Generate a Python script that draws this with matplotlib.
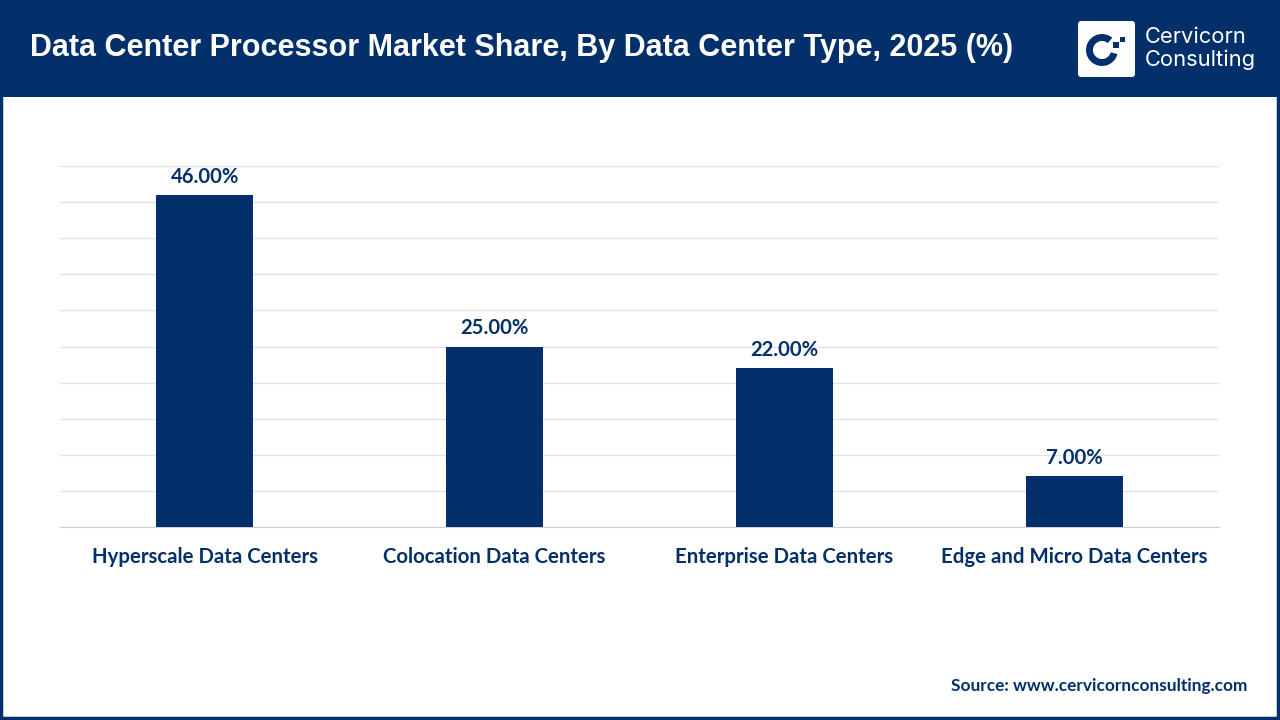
import matplotlib
matplotlib.use("Agg")
import matplotlib.pyplot as plt
from matplotlib.patches import Rectangle, FancyBboxPatch, Wedge

categories = ["Hyperscale Data Centers", "Colocation Data Centers",
              "Enterprise Data Centers", "Edge and Micro Data Centers"]
values = [46.00, 25.00, 22.00, 7.00]
title = "Data Center Processor Market Share, By Data Center Type, 2025 (%)"
source = "Source: www.cervicornconsulting.com"

NAVY = "#03306a"
W, H = 1280, 720
fig = plt.figure(figsize=(12.8, 7.2), dpi=100)
fig.patch.set_facecolor("white")

def fx(px): return px / W
def fy(py): return 1 - py / H

# header band
fig.add_artist(Rectangle((0, fy(97)), 1, 97 / H, transform=fig.transFigure,
                         facecolor=NAVY, edgecolor="none", zorder=0))
# border
fig.add_artist(Rectangle((fx(1), fy(718)), fx(1277), 717 / H, transform=fig.transFigure,
                         facecolor="none", edgecolor=NAVY, linewidth=2.5, zorder=5))

fig.text(fx(30), fy(48), title, color="white", fontsize=22, fontweight="bold",
         family="Liberation Sans", va="center", ha="left")

# logo
lax = fig.add_axes([fx(1078), fy(77), fx(57), 56 / H], zorder=10)
lax.set_xlim(0, 57); lax.set_ylim(0, 56); lax.axis("off")
lax.add_patch(FancyBboxPatch((0, 0), 57, 56, boxstyle="round,pad=0,rounding_size=3",
                             facecolor="white", edgecolor="none"))
lax.add_patch(Wedge((24, 27), 16, 50, 345, width=7, facecolor=NAVY, edgecolor="none"))
lax.add_patch(Rectangle((35, 29), 6, 6, facecolor=NAVY, edgecolor="none"))
lax.add_patch(Rectangle((42, 35), 5, 5, facecolor=NAVY, edgecolor="none"))
fig.text(fx(1145), fy(37), "Cervicorn", color="white", fontsize=15.8,
         family="Inter", va="center", ha="left", zorder=10)
fig.text(fx(1145), fy(60), "Consulting", color="white", fontsize=15.8,
         family="Inter", va="center", ha="left", zorder=10)

# main axes
ax = fig.add_axes([fx(60), fy(527), fx(1159), (527 - 166) / H])
x = range(len(categories))
bars = ax.bar(x, values, width=0.335, color=NAVY, zorder=3)
ax.set_xlim(-0.5, 3.5)
ax.set_ylim(0, 50)
ax.set_yticks(range(0, 51, 5))
ax.yaxis.grid(True, color="#e3e3e3", linewidth=1, zorder=0)
ax.tick_params(axis="y", left=False, labelleft=False)
ax.tick_params(axis="x", bottom=False, pad=11)
ax.set_xticks(list(x))
ax.set_xticklabels(categories, fontsize=14.7, fontweight="bold", family="Lato", color=NAVY)
for s in ["top", "right", "left"]:
    ax.spines[s].set_visible(False)
ax.spines["bottom"].set_color("#d0d0d0")
for b, v in zip(bars, values):
    ax.annotate(f"{v:.2f}%", (b.get_x() + b.get_width() / 2, v), xytext=(0, 6),
                textcoords="offset points", ha="center", va="bottom",
                fontsize=14.6, fontweight="bold", family="Lato", color=NAVY)

fig.text(fx(1247), fy(686), source, color=NAVY, fontsize=12.4, fontweight="bold",
         family="Lato", ha="right", va="center")

fig.savefig("out.png", dpi=100)
